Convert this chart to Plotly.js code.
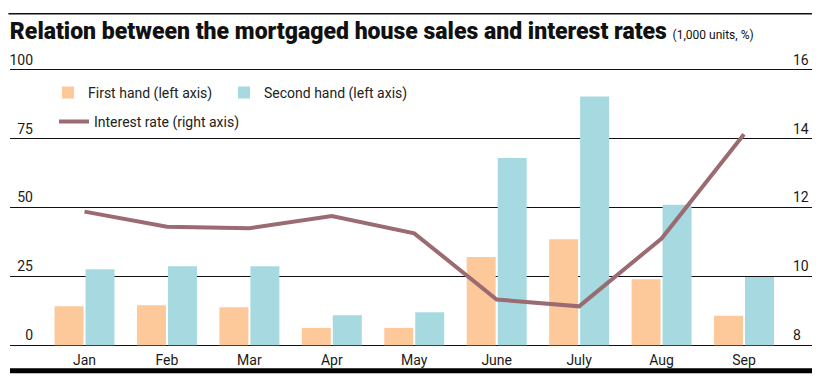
<!DOCTYPE html>
<html>
<head>
<meta charset="utf-8">
<script src="https://cdn.plot.ly/plotly-3.0.1.min.js"></script>
<style>html,body{margin:0;padding:0;background:#fff;}#chart{width:822px;height:385px;}</style>
</head>
<body>
<div id="chart"></div>
<script>
var months = ["Jan", "Feb", "Mar", "Apr", "May", "June", "July", "Aug", "Sep"];
var firstHand = [14.2, 14.5, 13.8, 6.3, 6.3, 32, 38.5, 24, 10.7];
var secondHand = [27.6, 28.7, 28.7, 10.9, 12, 68, 90.3, 51, 24.8];
var interestRate = [11.88, 11.44, 11.4, 11.75, 11.25, 9.33, 9.13, 11.1, 14.13];
var leftTicks = [0, 25, 50, 75, 100];
var rightTicks = [8, 10, 12, 14, 16];

var FONT = "'Roboto', sans-serif";
var MT = 67.25, MB = 37.25, H = 385, PH = H - MT - MB;
function py(pix) { return (H - MB - pix) / PH; }
function px(pix) { return (pix - 10) / 802; }

var traces = [
  {type: "bar", name: "First hand (left axis)", x: months, y: firstHand,
   marker: {color: "#fdc99b"}, legend: "legend"},
  {type: "bar", name: "Second hand (left axis)", x: months, y: secondHand,
   marker: {color: "#a6dae0"}, legend: "legend3"},
  {type: "scatter", mode: "lines", name: "Interest rate (right axis)", x: months, y: interestRate,
   yaxis: "y2", line: {color: "#9b6b72", width: 4}, legend: "legend2"}
];

var legendFont = {family: FONT, size: 14, color: "#222"};

var layout = {
  width: 822, height: 385,
  margin: {l: 10, r: 10, t: MT, b: MB, pad: 0},
  paper_bgcolor: "#fff", plot_bgcolor: "#fff",
  font: {family: FONT, size: 14, color: "#1a1a1a"},
  title: {
    text: "<span style='font-weight:900'>Relation between the mortgaged house sales and interest rates</span> <span style='font-size:12px;font-weight:normal'>(1,000 units, %)</span>",
    font: {family: FONT, size: 23, color: "#111"},
    x: 0.012, xref: "container", xanchor: "left",
    y: 1 - 31 / 385, yref: "container", yanchor: "middle"
  },
  barmode: "group", bargap: 0.248, bargroupgap: 0.065,
  showlegend: true,
  legend: {
    orientation: "h", x: px(48), y: py(93), xanchor: "left", yanchor: "middle",
    bgcolor: "rgba(0,0,0,0)", font: legendFont
  },
  legend3: {
    orientation: "h", x: px(224), y: py(93), xanchor: "left", yanchor: "middle",
    bgcolor: "rgba(0,0,0,0)", font: legendFont
  },
  legend2: {
    orientation: "h", x: px(54), y: py(122), xanchor: "left", yanchor: "middle",
    bgcolor: "rgba(0,0,0,0)", font: legendFont
  },
  xaxis: {
    type: "category", range: [-0.904, 8.825], showgrid: false, zeroline: false,
    showline: false, ticks: "", ticklabelstandoff: 2,
    tickfont: {family: FONT, size: 14, color: "#1a1a1a"}
  },
  yaxis: {
    range: [-1, 101], tickvals: leftTicks, ticktext: leftTicks.map(String),
    showgrid: true, gridcolor: "#111", gridwidth: 1.3, zeroline: false, showline: false,
    ticks: "", ticklabelposition: "outside", ticklabelstandoff: -24, ticklabelshift: -10,
    tickfont: {family: FONT, size: 14, color: "#1a1a1a"}
  },
  yaxis2: {
    range: [7.92, 16.08], overlaying: "y", side: "right",
    tickvals: rightTicks, ticktext: rightTicks.map(String),
    showgrid: false, zeroline: false, showline: false,
    ticks: "", ticklabelposition: "outside", ticklabelstandoff: -20, ticklabelshift: -10,
    tickfont: {family: FONT, size: 14, color: "#1a1a1a"}
  },
  shapes: [
    {type: "line", xref: "paper", yref: "paper", x0: -0.002, x1: 1, y0: py(14), y1: py(14),
     line: {color: "#111", width: 1.5}},
    {type: "line", xref: "paper", yref: "paper", x0: 0, x1: 1, y0: py(370.5), y1: py(370.5),
     line: {color: "#000", width: 5}}
  ]
};

Plotly.newPlot("chart", traces, layout, {displayModeBar: false, staticPlot: true});
</script>
</body>
</html>
